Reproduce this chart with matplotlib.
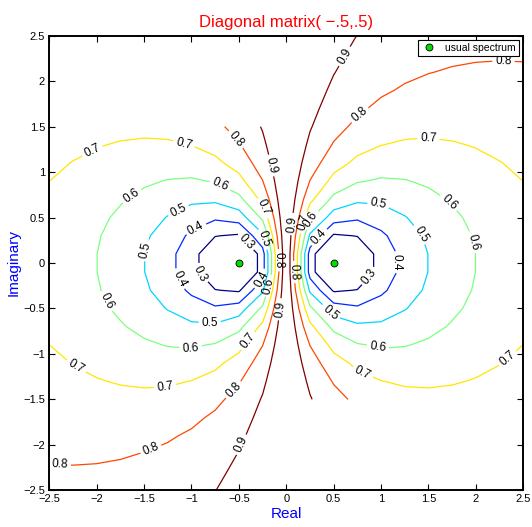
import numpy as np
import matplotlib
matplotlib.use("Agg")
import matplotlib.pyplot as plt

plt.rcParams['font.family'] = ['Liberation Sans', 'DejaVu Sans']

# eigenvalues of the diagonal matrix
eigs = [-0.5, 0.5]

# sampling grid used for the contour map
x_grid = np.arange(-2.5, 2.5001, 0.25)
y_grid = np.arange(-2.5, 2.5001, 0.2)

levels = [0.3, 0.4, 0.5, 0.6, 0.7, 0.8, 0.9]

# label positions per level (data coords)
label_pos = {
    0.3: [(-0.43, 0.23), (-0.91, -0.12), (0.87, -0.14)],
    0.4: [(-0.95, 0.37), (-1.14, -0.18), (-0.27, -0.17), (0.34, 0.29), (1.15, 0.01)],
    0.5: [(-1.14, 0.58), (-1.48, 0.14), (-0.26, 0.26), (-0.80, -0.57),
          (0.97, 0.62), (1.41, 0.31), (0.45, -0.56)],
    0.6: [(-1.63, 0.74), (-0.70, 0.85), (-1.91, -0.43), (-1.01, -0.95), (-0.19, -0.25),
          (0.27, 0.47), (1.70, 0.65), (1.96, 0.23), (0.96, -0.95)],
    0.7: [(-2.05, 1.24), (-1.08, 1.31), (-0.26, 0.60), (-2.23, -1.16), (-1.28, -1.36),
          (-0.39, -0.87), (0.17, 0.45), (1.50, 1.37), (0.80, -1.22), (2.31, -1.02)],
    0.8: [(-0.54, 1.35), (-0.08, 0.03), (0.07, -0.10), (0.78, 1.62), (2.29, 2.20),
          (-0.54, -1.41), (-1.42, -2.07), (-2.39, -2.23)],
    0.9: [(-0.17, 1.07), (0.04, 0.43), (-0.06, -0.51), (0.62, 2.27), (-0.47, -2.00)],
}

ticks = [-2.5, -2, -1.5, -1, -0.5, 0, 0.5, 1, 1.5, 2, 2.5]
tick_labels = ['\u22122.5', '\u22122', '\u22121.5', '\u22121', '\u22120.5', '0',
               '0.5', '1', '1.5', '2', '2.5']

X, Y = np.meshgrid(x_grid, y_grid)
Z = X + 1j * Y
d1 = np.abs(Z - eigs[0])
d2 = np.abs(Z - eigs[1])
F = np.minimum(d1, d2) / np.maximum(d1, d2)
# points where the computation gave nothing
F[((X < 0) & (Y > 1.6)) | ((X > 0) & (Y < -1.6))] = np.nan
F = np.ma.masked_invalid(F)

fig = plt.figure(figsize=(5.32, 5.27), dpi=100)
ax = fig.add_axes([49.3 / 532, 1 - 490.3 / 527, 474 / 532, 454.6 / 527])
ax.set_xlim(-2.5, 2.5)
ax.set_ylim(-2.5, 2.5)

jet = plt.get_cmap('jet')
for lev in levels:
    col = jet((lev - levels[0]) / (levels[-1] - levels[0]))
    cs = ax.contour(X, Y, F, levels=[lev], colors=[col], linewidths=0.9)
    ax.clabel(cs, manual=label_pos[lev], inline=True, inline_spacing=3,
              fontsize=8.5, colors='k', fmt='%g')

ax.plot(eigs, [0, 0], 'o', color='#00dd00', markeredgecolor='k', markeredgewidth=0.6,
        markersize=5, linestyle='none', label='usual spectrum')

ax.set_xticks(ticks)
ax.set_xticklabels(tick_labels)
ax.set_yticks(ticks)
ax.set_yticklabels(tick_labels)
ax.tick_params(direction='in', top=True, right=True, length=4, width=0.8,
               labelsize=8, pad=3)
for sp in ax.spines.values():
    sp.set_linewidth(1.4)

ax.set_title('Diagonal matrix( \u2212.5,.5)', color='red', fontsize=12, pad=6)
ax.set_xlabel('Real', color='blue', fontsize=11, labelpad=2)
ax.set_ylabel('Imaginary', color='blue', fontsize=11, labelpad=2)

leg = ax.legend(loc='upper right', fontsize=7.5, fancybox=False, framealpha=1,
                edgecolor='k', borderaxespad=0.4, handlelength=1.5, handletextpad=0.8,
                borderpad=0.3)
leg.get_frame().set_linewidth(0.8)

fig.savefig('out.png', dpi=100)
